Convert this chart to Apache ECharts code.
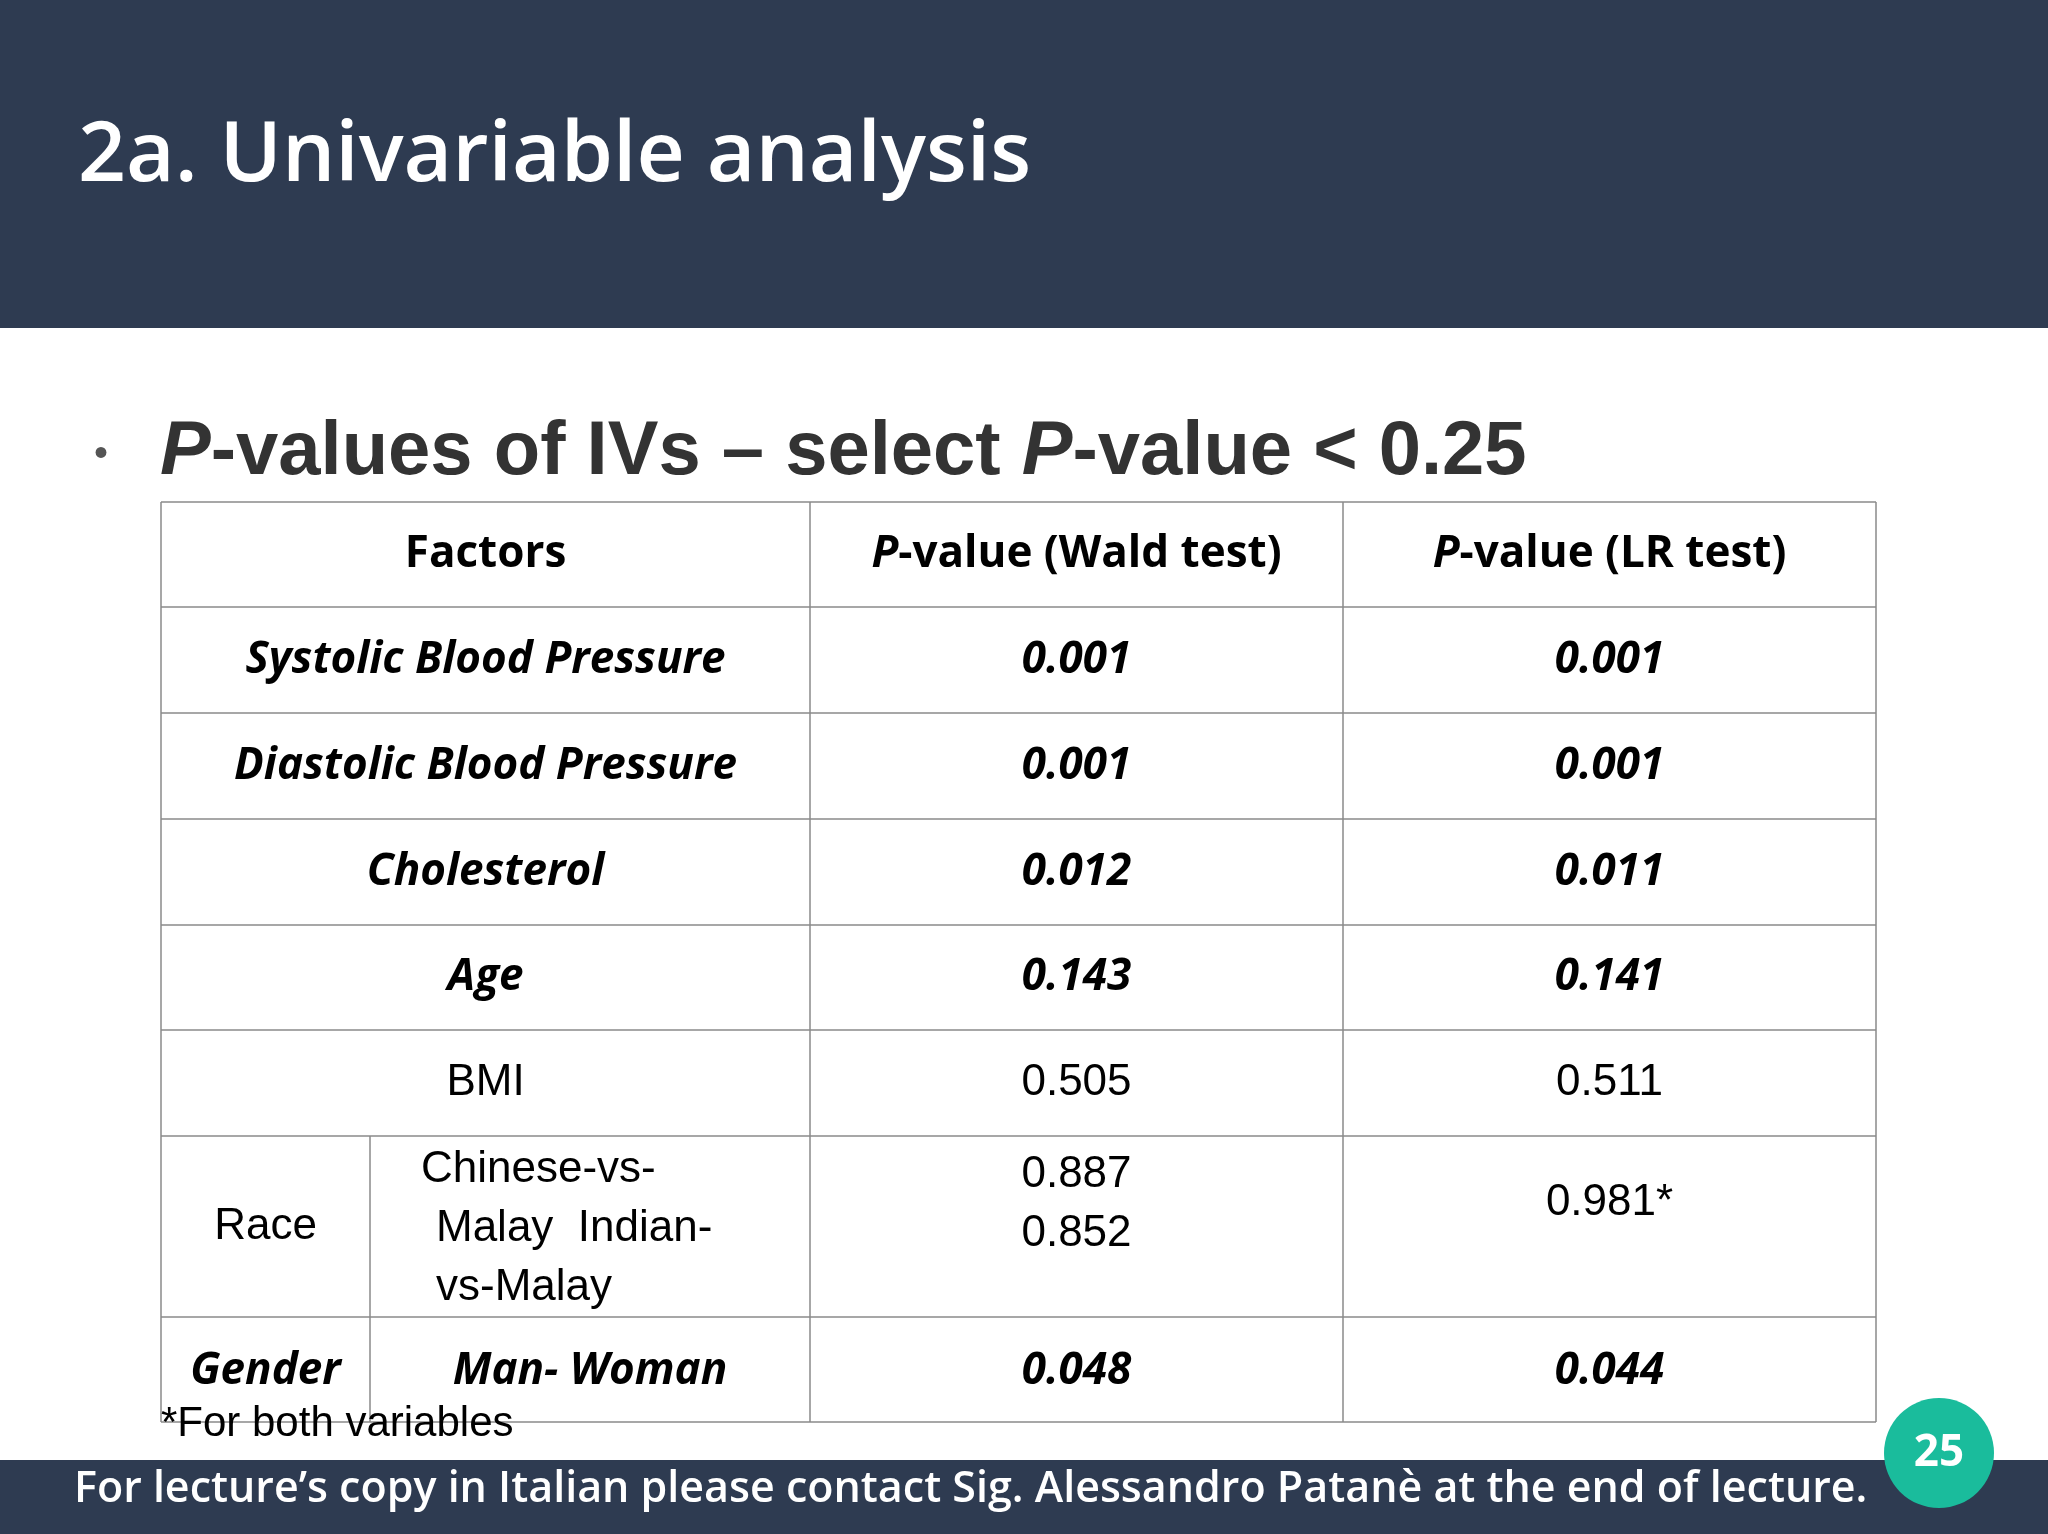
<!DOCTYPE html>
<html><head><meta charset="utf-8">
<script src="https://cdn.jsdelivr.net/npm/echarts@6/dist/echarts.min.js"></script>
<style>html,body{margin:0;padding:0;background:#fff}#main{width:2048px;height:1534px}</style>
</head><body><div id="main"></div>
<script>
// table contents
const headers = ['Factors', 'P-value (Wald test)', 'P-value (LR test)'];
const factors = ['Systolic Blood Pressure', 'Diastolic Blood Pressure', 'Cholesterol', 'Age', 'BMI'];
const waldValues = ['0.001', '0.001', '0.012', '0.143', '0.505'];
const lrValues = ['0.001', '0.001', '0.011', '0.141', '0.511'];
const significant = [true, true, true, true, false];
const raceLevels = ['Chinese-vs-', 'Malay  Indian-', 'vs-Malay'];
const raceWald = ['0.887', '0.852'];
const raceLr = '0.981*';
const genderRow = ['Gender', 'Man- Woman', '0.048', '0.044'];

const colX = [161, 810, 1343, 1876];
const subX = 370;
const rowY = [502, 607, 713, 819, 925, 1030, 1136, 1317, 1422];
const lineColor = '#8a8a8a';
const boldFont = '"Open Sans", Lato, sans-serif';
const plainFont = '"Liberation Sans", Arial, sans-serif';

const els = [];
els.push({type: 'rect', shape: {x: 0, y: 0, width: 2048, height: 328}, style: {fill: '#2e3b51'}});
els.push({type: 'text', x: 78, y: 157, style: {text: '2a. Univariable analysis', fill: '#fff', font: '600 84px "Open Sans", sans-serif', textVerticalAlign: 'middle'}});
els.push({type: 'text', x: 94, y: 455, style: {text: '•', fill: '#555', font: '40px sans-serif', textVerticalAlign: 'middle'}});
els.push({type: 'text', x: 160, y: 453, style: {
  rich: {i: {font: 'italic bold 76px ' + plainFont, fill: '#333'}, n: {font: 'bold 76px ' + plainFont, fill: '#333'}},
  text: '{i|P}{n|-values of IVs – select }{i|P}{n|-value < 0.25}', textVerticalAlign: 'middle'}});

function cell(x, y, txt, font, align) {
  els.push({type: 'text', x: x, y: y, style: {text: txt, font: font, fill: '#000', textAlign: align || 'center', textVerticalAlign: 'middle'}});
}
function hline(y, x1, x2) { els.push({type: 'line', shape: {x1: x1, y1: y, x2: x2, y2: y}, style: {stroke: lineColor, lineWidth: 1.5}}); }
function vline(x, y1, y2) { els.push({type: 'line', shape: {x1: x, y1: y1, x2: x, y2: y2}, style: {stroke: lineColor, lineWidth: 1.5}}); }

rowY.forEach(y => hline(y, colX[0], colX[3]));
colX.forEach(x => vline(x, rowY[0], rowY[8]));
vline(subX, rowY[6], rowY[8]);

const mid = (a, b) => (a + b) / 2;
const c0 = mid(colX[0], colX[1]), c1 = mid(colX[1], colX[2]), c2 = mid(colX[2], colX[3]);
const hy = mid(rowY[0], rowY[1]);
cell(c0, hy, headers[0], 'bold 44px ' + boldFont);
[c1, c2].forEach((cx, k) => {
  els.push({type: 'text', x: cx, y: hy, style: {
    rich: {i: {font: 'italic bold 44px ' + boldFont, fill: '#000'}, n: {font: 'bold 44px ' + boldFont, fill: '#000'}},
    text: '{i|P}{n|' + headers[k + 1].slice(1) + '}', textAlign: 'center', textVerticalAlign: 'middle'}});
});
factors.forEach((f, i) => {
  const y = mid(rowY[i + 1], rowY[i + 2]);
  const font = significant[i] ? 'italic bold 44px ' + boldFont : '44px ' + plainFont;
  cell(c0, y, f, font); cell(c1, y, waldValues[i], font); cell(c2, y, lrValues[i], font);
});
const rf = '44px ' + plainFont;
cell(mid(colX[0], subX), mid(rowY[6], rowY[7]), 'Race', rf);
raceLevels.forEach((t, k) => cell(k === 0 ? 421 : 436, 1170 + k * 59, t, rf, 'left'));
raceWald.forEach((t, k) => cell(c1, 1175 + k * 59, t, rf));
cell(c2, 1203, raceLr, rf);
const gy = mid(rowY[7], rowY[8]) + 2;
const gf = 'italic bold 44px ' + boldFont;
cell(mid(colX[0], subX), gy, genderRow[0], gf);
cell(590, gy, genderRow[1], gf);
cell(c1, gy, genderRow[2], gf);
cell(c2, gy, genderRow[3], gf);
cell(161, 1424, '*For both variables', '42px ' + plainFont, 'left');

els.push({type: 'rect', shape: {x: 0, y: 1460, width: 2048, height: 74}, style: {fill: '#2e3b51'}});
els.push({type: 'text', x: 74, y: 1490, style: {text: 'For lecture’s copy in Italian please contact Sig. Alessandro Patanè at the end of lecture.', fill: '#fff', font: '600 43px "Open Sans", sans-serif', textVerticalAlign: 'middle'}});
els.push({type: 'circle', shape: {cx: 1939, cy: 1453, r: 55}, style: {fill: '#1abc9c'}});
els.push({type: 'text', x: 1939, y: 1453, style: {text: '25', fill: '#fff', font: 'bold 44px "Open Sans", sans-serif', textAlign: 'center', textVerticalAlign: 'middle'}});

const chart = echarts.init(document.getElementById('main'));
chart.setOption({backgroundColor: '#ffffff', animation: false, graphic: {elements: els}});
</script></body></html>
